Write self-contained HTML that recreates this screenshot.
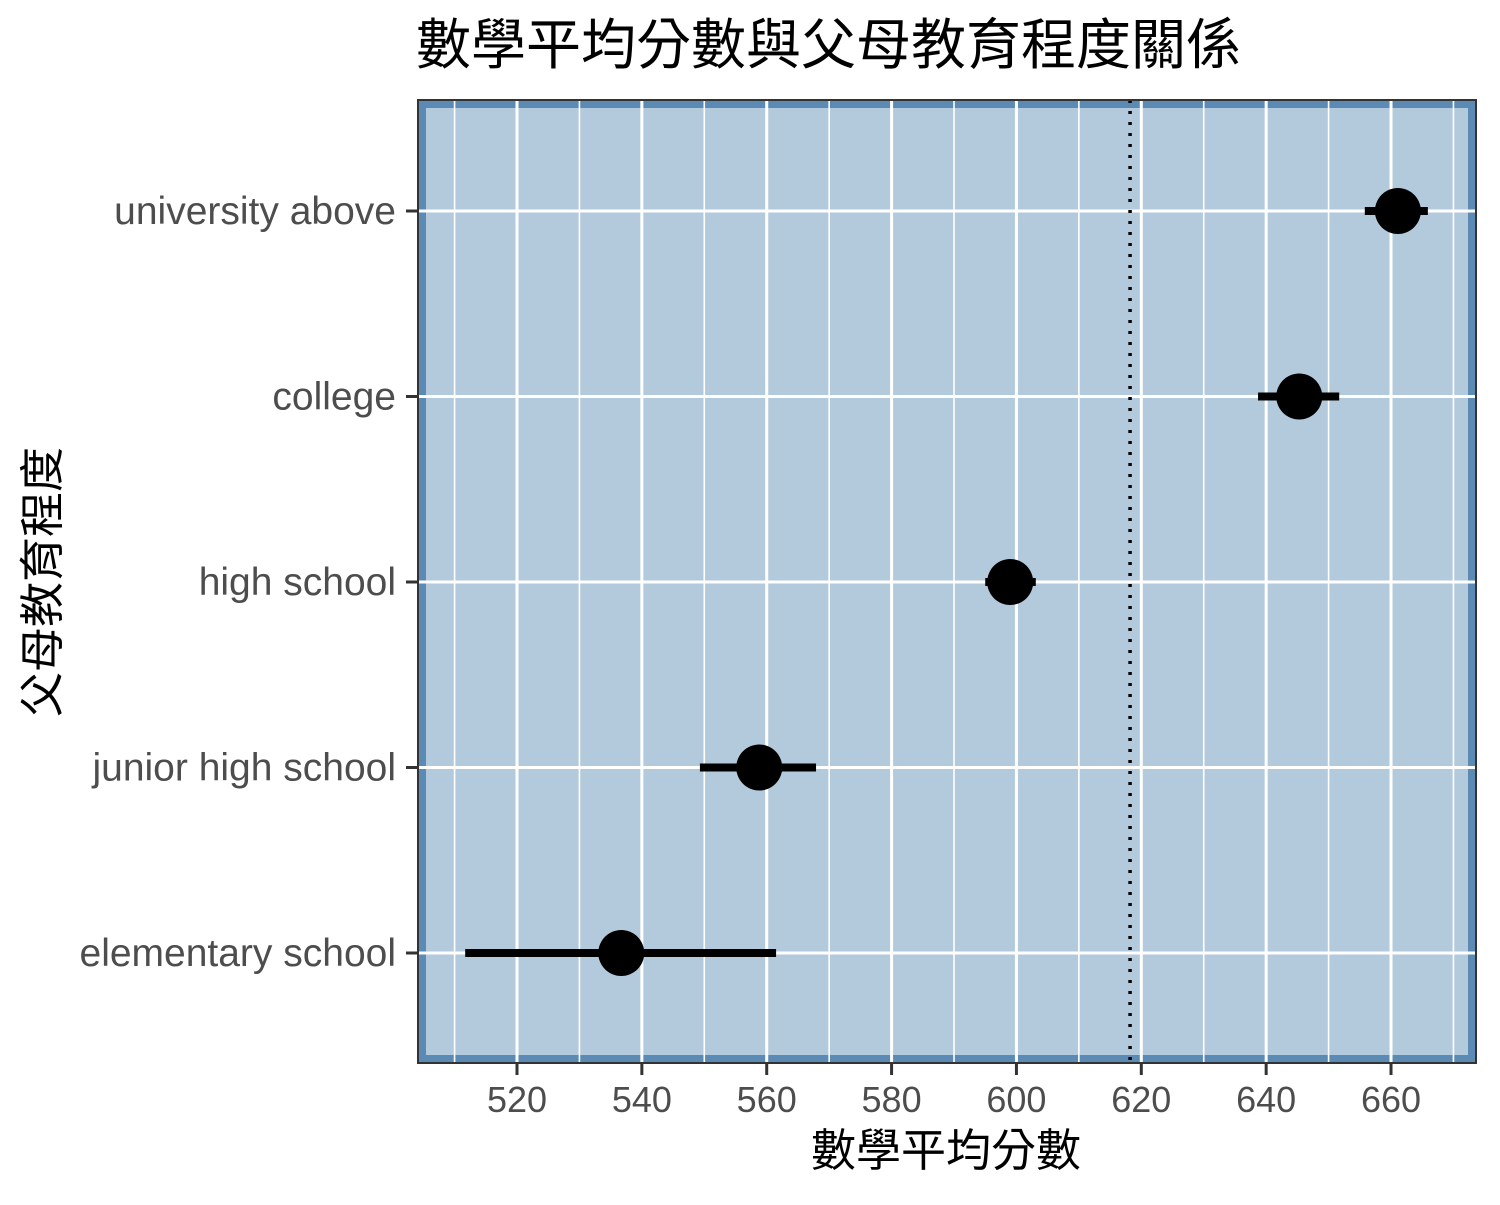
<!DOCTYPE html>
<html><head><meta charset="utf-8"><style>
body{margin:0;background:#fff}
svg text{font-family:"Liberation Sans","Noto Sans CJK TC",sans-serif}
</style></head><body>
<svg id="c" width="1500" height="1200" xmlns="http://www.w3.org/2000/svg">
<text x="416" y="64" font-size="55" fill="#000">數學平均分數與父母教育程度關係</text>
<rect x="418" y="100" width="1058" height="963" fill="#5b8bb5"/>
<rect x="426" y="108" width="1042" height="947" fill="#b3cadd"/>
<g id="grid"></g>
<g id="marks"></g>
<rect x="418" y="100" width="1058" height="963" fill="none" stroke="#333" stroke-width="2"/>
<g id="axes"></g>
<text x="946" y="1166" font-size="45" text-anchor="middle" fill="#000">數學平均分數</text>
<text transform="translate(58,582) rotate(-90)" font-size="45" text-anchor="middle" fill="#000">父母教育程度</text>
</svg>
<script>
const categories=["university above","college","high school","junior high school","elementary school"];
const means=[661.1,645.3,599.0,558.8,536.7];
const lows=[655.8,638.7,595.0,549.3,511.7];
const highs=[665.9,651.7,603.1,567.9,561.5];
const xTicks=[520,540,560,580,600,620,640,660];
const refLine=[618.2];
const NS="http://www.w3.org/2000/svg";
const x=v=>517+(v-520)*6.243;
const y=i=>211+i*185.5;
function mk(t,a,p){const e=document.createElementNS(NS,t);for(const k in a)e.setAttribute(k,a[k]);p.appendChild(e);return e;}
const grid=document.getElementById('grid'),marks=document.getElementById('marks'),axes=document.getElementById('axes');
for(let v=510;v<=670;v+=10){
  const major=v%20===0;
  const l=mk('line',{x1:x(v),x2:x(v),y1:100,y2:1063,stroke:'#fff','stroke-width':major?3:1.6},grid);
  
  
}
categories.forEach((c,i)=>{
  const l=mk('line',{x1:418,x2:1476,y1:y(i),y2:y(i),stroke:'#fff','stroke-width':3},grid);
  
  
  const t=mk('line',{x1:406,x2:418,y1:y(i),y2:y(i),stroke:'#333','stroke-width':3},axes);
  
  
  const tx=mk('text',{x:396,y:y(i)+13,'font-size':39,'text-anchor':'end',fill:'#4d4d4d'},axes);
  tx.textContent=c;
  
  
});
const rl=mk('line',{x1:x(refLine[0]),x2:x(refLine[0]),y1:100,y2:1063,stroke:'#000','stroke-width':3.5,'stroke-dasharray':'3 8'},marks);


categories.forEach((c,i)=>{
  const e=mk('line',{x1:x(lows[i]),x2:x(highs[i]),y1:y(i),y2:y(i),stroke:'#000','stroke-width':8},marks);
  
  
  const p=mk('circle',{cx:x(means[i]),cy:y(i),r:23,fill:'#000'},marks);
  
  
});
xTicks.forEach(v=>{
  const t=mk('line',{x1:x(v),x2:x(v),y1:1063,y2:1075,stroke:'#333','stroke-width':3},axes);
  
  
  const tx=mk('text',{x:x(v),y:1112,'font-size':36,'text-anchor':'middle',fill:'#4d4d4d'},axes);
  tx.textContent=v;
  
  
});
</script>
</body></html>
